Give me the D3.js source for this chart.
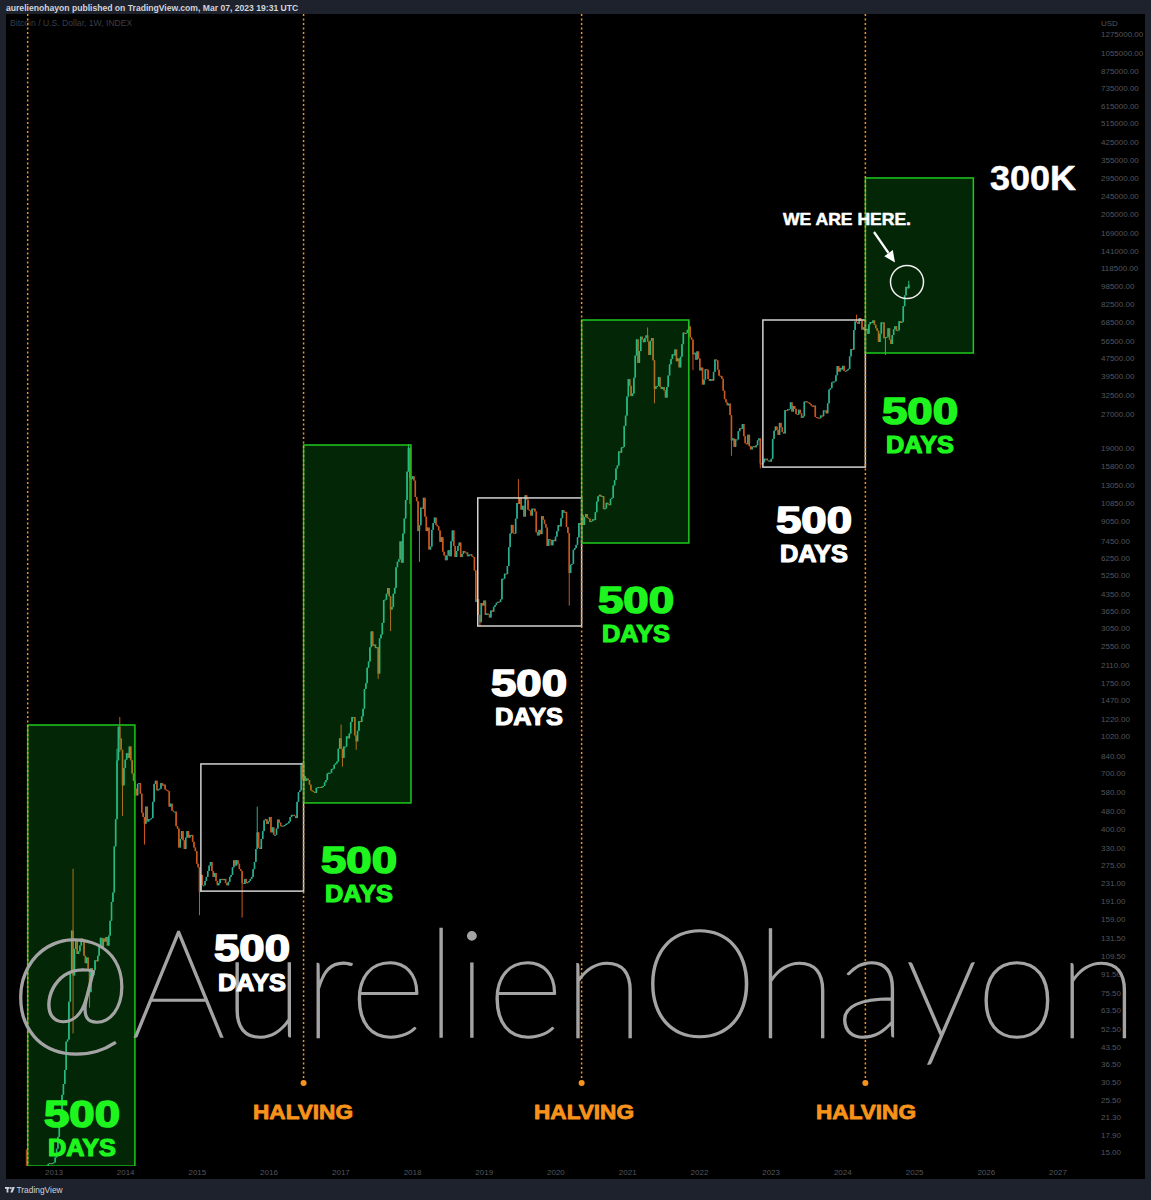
<!DOCTYPE html>
<html><head><meta charset="utf-8">
<script src="https://cdn.jsdelivr.net/npm/d3@7"></script>
<style>html,body{margin:0;padding:0;background:#1e222d;} svg{display:block}</style>
</head><body>
<svg id="chart" width="1151" height="1200"></svg>
<script>
// ---------------- DATA ----------------
// Weekly closes (BTC/USD INDEX, 1W), each list starts on the Monday given in weekStarts
const weekStarts = ["2012-08-06","2013-01-07","2014-01-06","2015-01-05","2016-01-04","2017-01-02","2018-01-01","2019-01-07","2020-01-06","2021-01-04","2022-01-03","2023-01-02","2024-01-01"];
const close2012 = [11.5,11.0,10.2,10.6, 11.0,11.6,12.2,12.3, 12.6,11.9,11.8,10.6,10.9, 10.9,11.5,12.3,12.6, 13.3,13.4,13.3,13.4,13.5];
const close2013 = [14.2,15.5,17.5,20.4, 22.5,26.8,29.9,34.5, 46,47,69,93, 142,90,118,128,112, 115,122,131,128, 110,102,108,95, 76,97,90,95,105, 104,110,122,132, 119,131,127,133,122, 135,157,190,209, 334,440,800,1125, 1000,890,620,740,805];
const close2014 = [860,820,920,800, 700,650,600,560, 630,635,570,470,450, 420,500,430,440, 440,445,525,630, 650,590,595,600,635, 620,625,595,590, 585,500,515,480, 475,475,410,400,330, 360,390,355,325, 365,390,365,375, 375,350,330,318,280];
const close2015 = [270,210,250,225, 225,235,245,260, 275,285,260,245,255, 235,225,230,240, 240,237,240,230, 225,233,245,250,270, 290,275,290,280, 265,260,230,228,240, 230,232,235,240, 245,265,285,325, 385,330,325,360,390, 435,440,420,430];
const close2016 = [450,385,405,375, 375,400,438,425,410, 412,410,415,420, 422,430,450,460, 460,455,445,525,580, 590,760,660,680, 650,665,655,625, 590,585,580,575,605, 608,610,605,612, 617,640,655,700,705, 705,730,735,765, 775,790,900,1000];
const close2017 = [900,820,920,920,1020, 1000,1050,1180,1240, 1240,1030,970,1080, 1190,1180,1250,1350, 1650,1750,2050,2180,2520, 2960,2560,2590,2500, 2520,1930,2760,2870,3230, 4070,4090,4340,4600, 4230,3700,3790,4340, 4610,5680,6010,6150,7380, 5950,8000,9320,11250, 15000,19100,14000,13900];
const close2018 = [14300,13700,11600,11100,8200, 8700,10400,10300,11500, 9500,8200,8500,6800, 7000,8300,8900,9400,8750, 8600,8250,7350,7700, 6650,6400,6100,6400, 6750,6350,7400,8250,7050, 6300,6700,7050,7300, 6300,6500,6700,6600, 6600,6350,6450,6480,6350, 6300,5500,4000,4100, 3500,3250,3950,3850,4050];
const close2019 = [3500,3550,3530,3410, 3660,3620,3800,3870, 3960,4000,3990,4100, 5050,5060,5320,5300,5750, 6970,8000,8730,8050, 8000,9300,10900,10800, 11500,10200,10600,9500,11800, 11300,10200,10100,9600, 10300,10300,10000,8100,7850, 8300,7950,9550,9200, 8800,8500,7050,7550, 7500,7100,7500,7400,7750];
const close2020 = [8190,8700,8600,9340, 10150,9900,9970,8540, 8040,5360,5830,5880,6780, 6900,7130,7690,8900, 8730,9670,8720,9450, 9750,9390,9300,9000,9070, 9240,9170,9930,11070, 11680,11850,11650,11700,10250, 10330,10930,10770,10670, 11370,11500,13030,13780, 15480,15960,18400,18180,19150, 19270,23860,26470,32130];
const close2021 = [38350,35830,32290,33110, 38900,48700,57400,45200, 51000,59000,57400,55800,58200, 59800,56200,49000,56600, 58200,46400,34700,35600,35800, 39100,35500,34700,35300, 34200,31800,35400,39800, 44600,47000,49300,48800,51800, 46000,47300,43200,48200, 54700,61500,60900,61300, 63300,65500,58600,57300,49400, 50100,46700,50800,47300];
const close2022 = [41900,43100,36300,38200,42400, 42200,38400,37700,38400, 37800,41300,46800,46400, 42200,39700,39500,38500, 34100,31300,30300,29400,29900, 26600,20600,21000,19300, 20800,20800,22600,23300, 23200,24300,21500,20000,19800, 21800,19400,18800,19300, 19400,19200,19600,20600,21000, 16300,16300,16500,17100, 17100,16800,16800,16600];
const close2023 = [17100,20900,22700,23700,22900, 21800,24600,23500,22400, 22100,28000,27900,28200, 28300,30300,27600,29200, 28400,26900,26800,28100,27100, 25900,26300,30500,30600, 30300,30200,29800,29300,29000, 29300,26100,26000,25900, 25800,26500,26300,27900, 27900,27100,30000,34500,35000, 37100,37400,37500,39900, 43800,41400,43000,42300];
const close2024 = [43900,41700,41600,42000,42600, 48300,52100,51700,63100, 68900,68400,67200,71300, 69400,63400,64900,63100,63900, 60800,66900,68500,67800, 69600,66600,64300,62700, 55900,60800,68200,68200,58100, 58700,58900,64200,57300, 54800,60000,63600,65600,62800, 63000,69000,67900,68700, 80400,89800,97900,96400, 100000];
const weeklyCloses = [close2012,close2013,close2014,close2015,close2016,close2017,close2018,close2019,close2020,close2021,close2022,close2023,close2024];

// Notable wick extremes (week start, price)
const wickDates  = ["2012-08-13","2012-08-13","2013-04-08","2013-04-08","2013-07-01","2013-11-18","2013-12-02","2013-12-02","2013-12-16","2014-04-07","2015-01-12","2015-08-17","2015-11-02","2016-06-13","2017-01-02","2017-01-09","2017-03-20","2017-07-10","2017-09-11","2017-12-11","2017-12-18","2018-02-05","2018-12-10","2019-06-24","2020-03-09","2021-04-12","2021-05-17","2021-11-08","2021-11-29","2022-06-13","2022-11-07","2024-03-11","2024-08-05","2024-12-02"];
const wickPrices = [15.4,7.1,266,50,65,900,1242,870,455,340,166,162,500,780,1150,750,890,1830,2970,19800,10800,6000,3120,13900,3850,64800,30000,69000,42000,17600,15500,73800,49000,104000];

// 500-day boxes
const boxKinds   = ["green","white","green","white","green","white","green"];
const boxStarts  = ["2012-08-20","2015-01-19","2016-06-25","2018-11-29","2020-05-11","2022-11-20","2024-04-25"];
const boxEnds    = ["2014-02-17","2016-06-25","2017-12-24","2020-05-11","2021-11-08","2024-04-25","2025-10-27"];
const boxTops    = [1145,771,19650,11480,69900,69900,295600];
const boxBottoms = [13.0,212,519,3128,7265,15700,50000];

// Vertical dotted lines (halvings)
const halvingDates = ["2012-08-20","2016-06-25","2020-05-11","2024-04-25"];
const halvingLabeled = [false,true,true,true];

// Axis tick labels
const priceTicks = [1275000,1055000,875000,735000,615000,515000,425000,355000,295000,245000,205000,169000,141000,118500,98500,82500,68500,56500,47500,39500,32500,27000,19000,15800,13050,10850,9050,7450,6250,5250,4350,3650,3050,2550,2110,1750,1470,1220,1020,840,700,580,480,400,330,275,231,191,159,131.5,109.5,91.5,75.5,63.5,52.5,43.5,36.5,30.5,25.5,21.3,17.9,15];
const yearTicks = [2013,2014,2015,2016,2017,2018,2019,2020,2021,2022,2023,2024,2025,2026,2027];

// ---------------- LAYOUT ----------------
const W = 1151, H = 1200;
const pane = {x0: 6, y0: 14, x1: 1145, y1: 1179};
const plotBottom = 1166;
const parse = d3.utcParse("%Y-%m-%d");

const x = d3.scaleUtc().domain([Date.UTC(2013,0,1), Date.UTC(2027,0,1)]).range([54, 1058]);
const y = d3.scaleLog().domain([15, 1275000]).range([1152, 34]);

const svg = d3.select("#chart");
svg.append("rect").attr("width", W).attr("height", H).attr("fill", "#1e222d");
svg.append("rect").attr("x", pane.x0).attr("y", pane.y0).attr("width", pane.x1 - pane.x0).attr("height", pane.y1 - pane.y0).attr("fill", "#000");

// header
svg.append("text").attr("x", 6).attr("y", 10.5)
  .attr("font-family", "'Liberation Sans', Arial, sans-serif").attr("font-size", 8.6).attr("font-weight", "bold")
  .attr("fill", "#d1d4dc").text("aurelienohayon published on TradingView.com, Mar 07, 2023 19:31 UTC");
svg.append("text").attr("x", 10).attr("y", 26)
  .attr("font-family", "'Liberation Sans', Arial, sans-serif").attr("font-size", 8.6)
  .attr("fill", "#3a3e49").text("Bitcoin / U.S. Dollar, 1W, INDEX");

// clip
svg.append("clipPath").attr("id", "plotclip").append("rect")
  .attr("x", pane.x0).attr("y", pane.y0).attr("width", 1085 - pane.x0).attr("height", plotBottom - pane.y0);
const plot = svg.append("g").attr("clip-path", "url(#plotclip)");

// candles
const candles = [];
let prev = null;
weeklyCloses.forEach((arr, k) => {
  const d0 = parse(weekStarts[k]);
  arr.forEach((c, i) => {
    const d = d3.utcDay.offset(d0, 7 * i);
    const o = prev == null ? c : prev;
    candles.push({date: d, open: o, close: c, high: Math.max(o, c), low: Math.min(o, c)});
    prev = c;
  });
});
const byTime = new Map(candles.map(c => [+c.date, c]));
wickDates.forEach((ds, i) => {
  const c = byTime.get(+parse(ds));
  if (c) { c.high = Math.max(c.high, wickPrices[i]); c.low = Math.min(c.low, wickPrices[i]); }
});
const upCol = "#2bad92", dnCol = "#c9581e";
const cg = plot.append("g");
cg.selectAll("line").data(candles).join("line")
  .attr("x1", d => x(d.date)).attr("x2", d => x(d.date))
  .attr("y1", d => y(d.high)).attr("y2", d => y(d.low))
  .attr("stroke", d => d.close >= d.open ? upCol : dnCol).attr("stroke-width", 1);
cg.selectAll("rect").data(candles).join("rect")
  .attr("x", d => x(d.date) - 0.8).attr("width", 1.6)
  .attr("y", d => y(Math.max(d.open, d.close)))
  .attr("height", d => Math.max(1, y(Math.min(d.open, d.close)) - y(Math.max(d.open, d.close))))
  .attr("fill", d => d.close >= d.open ? upCol : dnCol);

// boxes
const boxes = boxKinds.map((k, i) => ({kind: k, s: parse(boxStarts[i]), e: parse(boxEnds[i]), top: boxTops[i], bot: boxBottoms[i]}));
plot.append("g").selectAll("rect").data(boxes).join("rect")
  .attr("x", d => x(d.s)).attr("width", d => x(d.e) - x(d.s))
  .attr("y", d => y(d.top)).attr("height", d => y(d.bot) - y(d.top))
  .attr("fill", d => d.kind === "green" ? "rgba(20,255,40,0.15)" : "none")
  .attr("stroke", d => d.kind === "green" ? "#1ec81e" : "#d2d2d2")
  .attr("stroke-width", 1.5);

// halving lines
const hv = halvingDates.map((d, i) => ({date: parse(d), labeled: halvingLabeled[i]}));
const hg = svg.append("g");
hg.selectAll("line").data(hv).join("line")
  .attr("x1", d => x(d.date)).attr("x2", d => x(d.date))
  .attr("y1", pane.y0).attr("y2", d => d.labeled ? 1083 : plotBottom)
  .attr("stroke", "#f7931a").attr("stroke-width", 1.5).attr("stroke-dasharray", "2,2.5");
hg.selectAll("circle").data(hv.filter(d => d.labeled)).join("circle")
  .attr("cx", d => x(d.date)).attr("cy", 1083).attr("r", 3).attr("fill", "#f7931a");

// price axis labels
const axisFont = "'Liberation Sans', Arial, sans-serif";
const pa = svg.append("g").attr("font-family", axisFont).attr("font-size", 8).attr("fill", "#52565f");
pa.append("text").attr("x", 1101).attr("y", 26).text("USD");
pa.selectAll("text.t").data(priceTicks).join("text").attr("class", "t")
  .attr("x", 1101).attr("y", d => y(d) + 3).text(d => d.toFixed(2));

// year labels
svg.append("g").attr("font-family", axisFont).attr("font-size", 8).attr("fill", "#52565f")
  .selectAll("text").data(yearTicks).join("text")
  .attr("x", d => x(Date.UTC(d, 0, 1))).attr("y", 1175).attr("text-anchor", "middle").text(d => d);

// watermark
svg.append("text").attr("x", 10).attr("y", 1037)
  .attr("font-family", "Lato, 'Open Sans', sans-serif").attr("font-weight", 200).attr("font-size", 150)
  .attr("textLength", 1128).attr("lengthAdjust", "spacingAndGlyphs")
  .attr("fill", "#a4a4a4").attr("stroke", "#a4a4a4").attr("stroke-width", 1.6)
  .text("@AurelienOhayon");

// annotation labels
const heavy = "'Liberation Sans', Arial, sans-serif";
function label(t, cx, base, size, width, color, sw) {
  svg.append("text").attr("x", cx).attr("y", base).attr("text-anchor", "middle")
    .attr("font-family", heavy).attr("font-weight", "bold").attr("font-size", size)
    .attr("textLength", width).attr("lengthAdjust", "spacingAndGlyphs")
    .attr("fill", color).attr("stroke", color).attr("stroke-width", sw).attr("stroke-linejoin", "round")
    .text(t);
}
const GREEN = "#1ef51e", WHITE = "#ffffff", ORANGE = "#f7931a";
const dayLabels = [
  {cx: 82, b1: 1127, b2: 1156, c: GREEN},
  {cx: 252, b1: 961, b2: 991, c: WHITE},
  {cx: 359, b1: 873, b2: 902, c: GREEN},
  {cx: 529, b1: 696, b2: 725, c: WHITE},
  {cx: 636, b1: 613, b2: 642, c: GREEN},
  {cx: 814, b1: 533, b2: 562, c: WHITE},
  {cx: 920, b1: 424, b2: 453, c: GREEN}
];
dayLabels.forEach(d => {
  label("500", d.cx, d.b1, 37, 76, d.c, 1.6);
  label("DAYS", d.cx, d.b2, 24, 68, d.c, 1.2);
});
[303, 584, 866].forEach(cx => label("HALVING", cx, 1119, 20, 100, ORANGE, 0.8));
label("300K", 1033, 190, 35, 86, WHITE, 0.5);
label("WE ARE HERE.", 847, 225, 16.5, 128, WHITE, 0.5);

// arrow + circle
svg.append("line").attr("x1", 874).attr("y1", 232).attr("x2", 888.5).attr("y2", 253)
  .attr("stroke", "#fff").attr("stroke-width", 2.2);
svg.append("polygon").attr("points", "895,262.5 884.3,256.3 892.8,250").attr("fill", "#fff");
svg.append("circle").attr("cx", 907).attr("cy", 282).attr("r", 16.5)
  .attr("fill", "none").attr("stroke", "#f0f0f0").attr("stroke-width", 1.5);

// footer logo
const fg = svg.append("g").attr("fill", "#d1d4dc");
fg.append("rect").attr("x", 5).attr("y", 1187).attr("width", 4.5).attr("height", 1.8);
fg.append("rect").attr("x", 6.6).attr("y", 1187).attr("width", 1.8).attr("height", 5.5);
fg.append("circle").attr("cx", 10.8).attr("cy", 1188).attr("r", 1);
fg.append("polygon").attr("points", "12.5,1187 14.8,1187 12.6,1192.5 10.4,1192.5");
fg.append("text").attr("x", 16.5).attr("y", 1192.5).attr("font-family", axisFont)
  .attr("font-size", 8.4).text("TradingView");
</script>
</body></html>
